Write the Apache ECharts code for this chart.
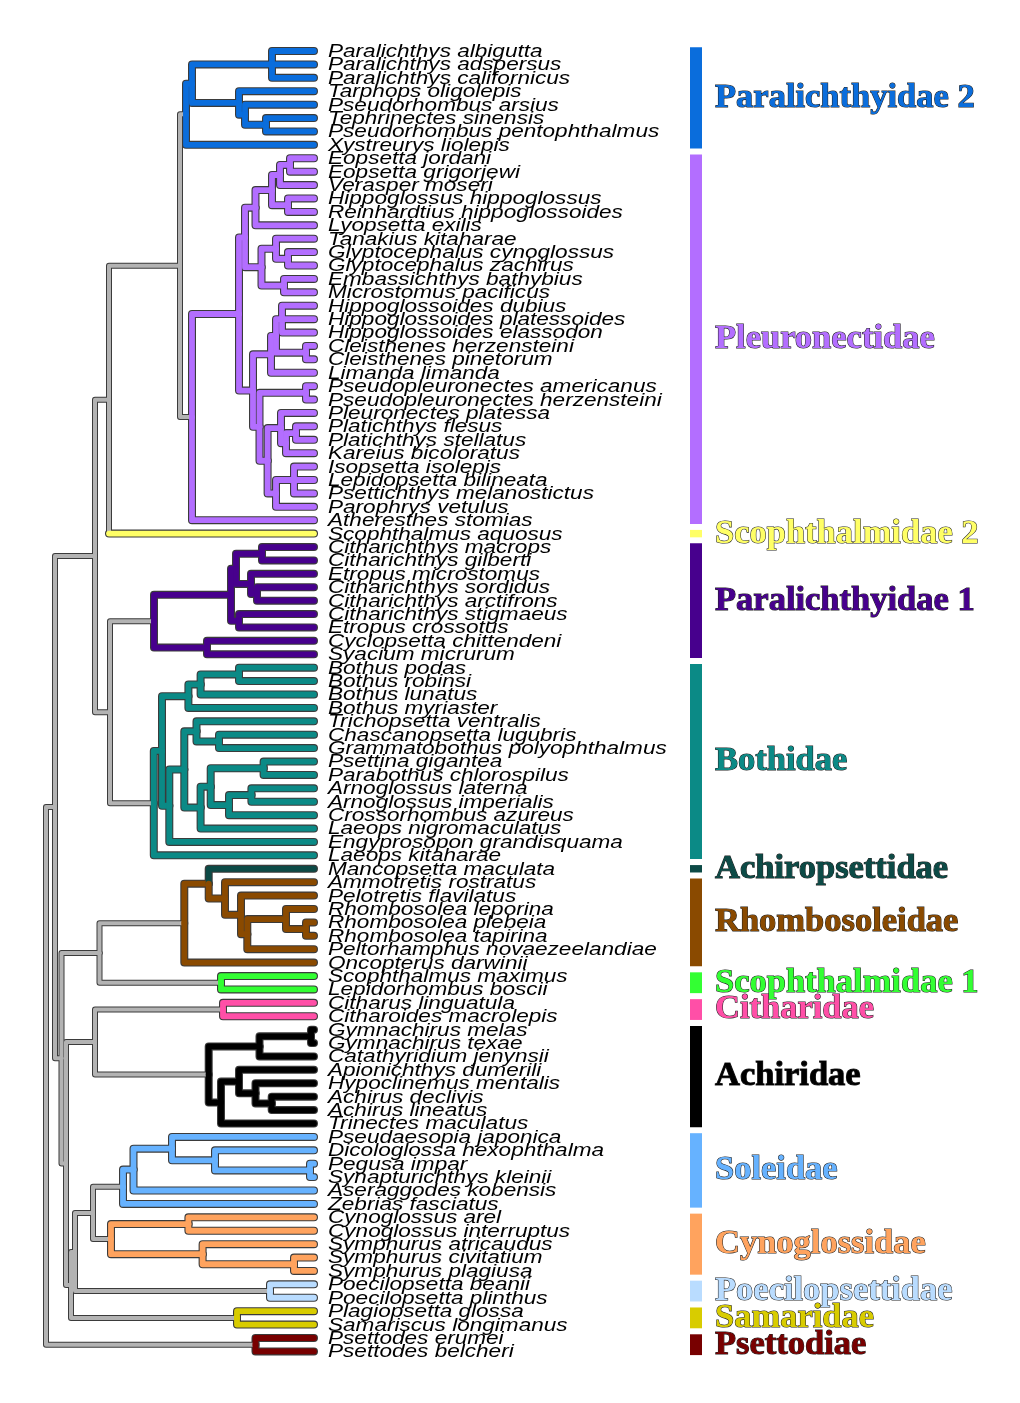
<!DOCTYPE html>
<html>
<head>
<meta charset="utf-8">
<script src="https://cdn.jsdelivr.net/npm/echarts@6/dist/echarts.min.js"></script>
<style>
html,body{margin:0;padding:0;background:#fff;}
#chart{width:1020px;height:1403px;}
</style>
</head>
<body>
<div id="chart"></div>
<script>
// ---- leaves (top to bottom) ----
const leaves = [
  'Paralichthys albigutta','Paralichthys adspersus','Paralichthys californicus','Tarphops oligolepis',
  'Pseudorhombus arsius','Tephrinectes sinensis','Pseudorhombus pentophthalmus','Xystreurys liolepis',
  'Eopsetta jordani','Eopsetta grigorjewi','Verasper moseri','Hippoglossus hippoglossus',
  'Reinhardtius hippoglossoides','Lyopsetta exilis','Tanakius kitaharae','Glyptocephalus cynoglossus',
  'Glyptocephalus zachirus','Embassichthys bathybius','Microstomus pacificus','Hippoglossoides dubius',
  'Hippoglossoides platessoides','Hippoglossoides elassodon','Cleisthenes herzensteini','Cleisthenes pinetorum',
  'Limanda limanda','Pseudopleuronectes americanus','Pseudopleuronectes herzensteini','Pleuronectes platessa',
  'Platichthys flesus','Platichthys stellatus','Kareius bicoloratus','Isopsetta isolepis',
  'Lepidopsetta bilineata','Psettichthys melanostictus','Parophrys vetulus','Atheresthes stomias',
  'Scophthalmus aquosus','Citharichthys macrops','Citharichthys gilberti','Etropus microstomus',
  'Citharichthys sordidus','Citharichthys arctifrons','Citharichthys stigmaeus','Etropus crossotus',
  'Cyclopsetta chittendeni','Syacium micrurum','Bothus podas','Bothus robinsi',
  'Bothus lunatus','Bothus myriaster','Trichopsetta ventralis','Chascanopsetta lugubris',
  'Grammatobothus polyophthalmus','Psettina gigantea','Parabothus chlorospilus','Arnoglossus laterna',
  'Arnoglossus imperialis','Crossorhombus azureus','Laeops nigromaculatus','Engyprosopon grandisquama',
  'Laeops kitaharae','Mancopsetta maculata','Ammotretis rostratus','Pelotretis flavilatus',
  'Rhombosolea leporina','Rhombosolea plebeia','Rhombosolea tapirina','Peltorhamphus novaezeelandiae',
  'Oncopterus darwinii','Scophthalmus maximus','Lepidorhombus boscii','Citharus linguatula',
  'Citharoides macrolepis','Gymnachirus melas','Gymnachirus texae','Catathyridium jenynsii',
  'Apionichthys dumerili','Hypoclinemus mentalis','Achirus declivis','Achirus lineatus',
  'Trinectes maculatus','Pseudaesopia japonica','Dicologlossa hexophthalma','Pegusa impar',
  'Synapturichthys kleinii','Aseraggodes kobensis','Zebrias fasciatus','Cynoglossus arel',
  'Cynoglossus interruptus','Symphurus atricaudus','Symphurus civitatium','Symphurus plagiusa',
  'Poecilopsetta beanii','Poecilopsetta plinthus','Plagiopsetta glossa','Samariscus longimanus',
  'Psettodes erumei','Psettodes belcheri'
];

// ---- internal nodes: [id, depth (x), children (leaf index or node id)] ----
const treeNodes = [
  ['par',272,[0,1,2]], ['sp',266,[5,6]], ['ars',245,[4,'sp']], ['tar',239,[3,'ars']],
  ['p2a',192,['par','tar']], ['P2',186,['p2a',7]],
  ['e1',290,[8,9]], ['e2',280,['e1',10]], ['h1',288,[11,12]], ['e3',272,['e2','h1']],
  ['e4',255.5,['e3',13]], ['g1',288,[15,16]], ['g2',276,[14,'g1']], ['m1',284,[17,18]],
  ['g3',261.5,['g2','m1']], ['u1',245,['e4','g3']],
  ['hp',282,[19,20,21]], ['cl',306,[22,23]], ['hc',276,['hp','cl']], ['hl',271,['hc',24]],
  ['pp',306,[25,26]], ['pl1',296,[28,29]], ['pl2',286,['pl1',30]], ['pl3',281,[27,'pl2']],
  ['is1',294,[31,32,33]], ['is2',276,['is1',34]], ['lo3',267.6,['pl3','is2']],
  ['lo2',259.5,['pp','lo3']], ['lo1',253,['hl','lo2']], ['pu',239,['u1','lo1']],
  ['PL',192,['pu',35]], ['G1',180,['P2','PL']], ['G2',109,['G1',36]],
  ['c1',262,[37,38]], ['c2',257,[40,41]], ['c3',251,[39,'c2']], ['c4',236,['c1','c3']],
  ['c5',239,[42,43]], ['c6',231,['c4','c5']], ['c7',207,[44,45]], ['P1',154,['c6','c7']],
  ['b1',239,[46,47]], ['b2',200.6,['b1',48]], ['b3',188.4,['b2',49]], ['b4',219,[51,52]],
  ['b5',196.5,[50,'b4']], ['b6',263.6,[53,54]], ['b7',251.4,[55,56]], ['b8',229,['b7',57]],
  ['b9',210.7,['b6','b8']], ['b10',200.6,['b9',58]], ['b11',184.3,['b5','b10']],
  ['b12',169.3,['b11',59]], ['b13',162,['b3','b12']], ['BO',153.8,['b13',60]],
  ['G5',110,['P1','BO']], ['G3',95,['G2','G5']],
  ['r1',306,[65,66]], ['r2',286,[64,'r1']], ['r3',247.3,['r2',67]], ['r4',241,[63,'r3']],
  ['r5',225,[62,'r4']], ['r6',208.7,[61,'r5']], ['RH',184.3,['r6',68]],
  ['SC1',221,[69,70]], ['RS',99.5,['RH','SC1']],
  ['CI',223,[71,72]],
  ['a1',311,[73,74]], ['a2',259.5,['a1',75]], ['a3',271.7,[78,79]], ['a4',255.5,[77,'a3']],
  ['a5',239,[76,'a4']], ['a6',221,['a5',80]], ['AC',208.7,['a2','a6']], ['CA',95,['CI','AC']],
  ['s1',310,[83,84]], ['s2',215,[82,'s1']], ['s3',172,[81,'s2']], ['s4',133.5,['s3',85]],
  ['SO',123,['s4',86]],
  ['y1',188.4,[87,88]], ['y2',294,[90,91]], ['y3',202.6,[89,'y2']], ['CY',111,['y1','y3']],
  ['SC',93,['SO','CY']], ['PO',270,[92,93]], ['X5',75,['SC','PO']],
  ['SA',237,[94,95]], ['X4',71,['X5','SA']], ['X3',66,['CA','X4']], ['X2',61.5,['RS','X3']],
  ['G4',55,['G3','X2']], ['PS',255.5,[96,97]], ['ROOT',46,['G4','PS']]
];

// ---- families ----
const familyNames  = ['Paralichthyidae 2','Pleuronectidae','Scophthalmidae 2','Paralichthyidae 1','Bothidae',
  'Achiropsettidae','Rhombosoleidae','Scophthalmidae 1','Citharidae','Achiridae','Soleidae',
  'Cynoglossidae','Poecilopsettidae','Samaridae','Psettodiae'];
const familyColors = ['#0a6ddc','#b36eff','#ffff66','#47008d','#0b8a86',
  '#0c4a46','#8a4a00','#33ff33','#ff4fa7','#000000','#66b2ff',
  '#ffa35e','#b9dcff','#d8cc00','#780000'];
const familyFirst  = [0,8,36,37,46,61,62,69,71,73,81,87,92,94,96];
const familyLast   = [7,35,36,45,60,61,68,70,72,80,86,91,93,95,97];
const familyClade  = ['P2','PL',36,'P1','BO',61,'RH','SC1','CI','AC','SO','CY','PO','SA','PS'];

const GRAY = '#b3b3b3';
const TIP_X = 314;
const LABEL_X = 328;

// ---- build tree geometry ----
const nodeMap = {};
treeNodes.forEach(n => { nodeMap[n[0]] = {id:n[0], x:n[1], children:n[2]}; });
const cladeColor = {};
familyClade.forEach((c,i) => { cladeColor[c] = familyColors[i]; });

function yOf(c){
  if (typeof c === 'number') return c;
  const n = nodeMap[c];
  if (n.y === undefined){
    const ys = n.children.map(yOf);
    n.y = (Math.min(...ys) + Math.max(...ys)) / 2;
  }
  return n.y;
}
function xOf(c){ return typeof c === 'number' ? TIP_X : nodeMap[c].x; }
yOf('ROOT');

// each edge: vertical part (at parent x) + horizontal part (to child)
const edges = [];
function walk(id, inherited){
  const n = nodeMap[id];
  const childColor = cladeColor[id] || inherited;
  n.children.forEach(c => {
    let col = childColor, vcol = childColor;
    if (typeof c === 'number' && cladeColor[c]) {
      col = cladeColor[c];
      vcol = childColor === GRAY ? GRAY : col;
    }
    edges.push({value:[n.x, n.y, xOf(c), yOf(c)], color:col, vcolor:vcol});
    if (typeof c !== 'number') walk(c, childColor);
  });
}
walk('ROOT', GRAY);

function edgeItem(params, api, outline){
  const e = edges[params.dataIndex];
  const p0 = api.coord([api.value(0), api.value(1)]);
  const p1 = api.coord([api.value(0), api.value(3)]);
  const p2 = api.coord([api.value(2), api.value(3)]);
  const wOf = (col) => outline ? (col !== GRAY ? 8.0 : 6.0) : (col !== GRAY ? 5.8 : 4.0);
  const st = (col) => ({stroke: outline ? '#3b3b3b' : col, lineWidth:wOf(col), fill:null, lineCap:'round', lineJoin:'round'});
  if (e.vcolor === e.color) {
    return {type:'polyline', shape:{points:[p0,p1,p2]}, style:st(e.color), silent:true};
  }
  return {type:'group', children:[
    {type:'polyline', shape:{points:[p0,p1]}, style:st(e.vcolor)},
    {type:'polyline', shape:{points:[p1,p2]}, style:st(e.color)}
  ]};
}

const chart = echarts.init(document.getElementById('chart'));
chart.setOption({
  animation:false,
  backgroundColor:'#ffffff',
  grid:{left:0, right:0, top:44.3, bottom:44.9},
  xAxis:{type:'value', min:0, max:1020, show:false},
  yAxis:{type:'value', inverse:true, min:-0.5, max:97.5, show:false},
  series:[
    {
      type:'custom', z:1, silent:true,
      data: edges.map(e => e.value),
      renderItem:(p,a) => edgeItem(p,a,true)
    },
    {
      type:'custom', z:2, silent:true,
      data: edges.map(e => e.value),
      renderItem:(p,a) => edgeItem(p,a,false)
    },
    {
      type:'custom', z:3, silent:true,
      data: leaves.map((n,i) => [LABEL_X, i]),
      renderItem:(params, api) => {
        const pt = api.coord([api.value(0), api.value(1)]);
        return {
          type:'text', x:pt[0], y:pt[1]+0.8, scaleX:1.22, scaleY:1,
          style:{text:leaves[params.dataIndex], font:'italic 18.5px "Liberation Sans", Arial, sans-serif',
                 fill:'#000', align:'left', verticalAlign:'middle', textAlign:'left', textVerticalAlign:'middle'}
        };
      }
    },
    {
      type:'custom', z:4, silent:true,
      data: familyNames.map((n,i) => [familyFirst[i], familyLast[i]]),
      renderItem:(params, api) => {
        const i = params.dataIndex;
        const top = api.coord([690, api.value(0) - 0.5]);
        const bot = api.coord([702, api.value(1) + 0.5]);
        const y0 = top[1] + 3, y1 = bot[1] - 3;
        return {
          type:'group',
          children:[
            {type:'rect', shape:{x:top[0], y:y0, width:bot[0]-top[0], height:y1-y0},
             style:{fill:familyColors[i]}},
            {type:'text', x:715, y:(y0+y1)/2,
             style:{text:familyNames[i], font:'bold 34.5px "Liberation Serif", "Times New Roman", serif',
                    fill:familyColors[i], stroke:'#222', lineWidth:1.1,
                    align:'left', verticalAlign:'middle', textAlign:'left', textVerticalAlign:'middle'}}
          ]
        };
      }
    }
  ]
});
</script>
</body>
</html>
